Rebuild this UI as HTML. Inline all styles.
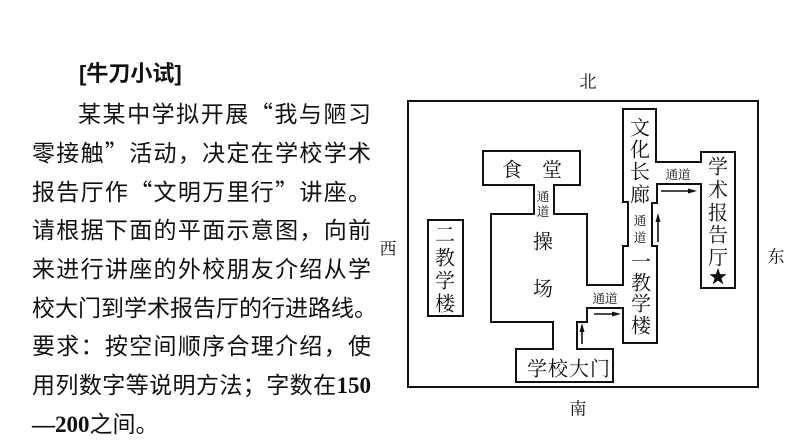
<!DOCTYPE html>
<html>
<head>
<meta charset="utf-8">
<style>
  html,body{margin:0;padding:0;background:#fff;}
  body{width:794px;height:447px;position:relative;overflow:hidden;}
  .t{position:absolute;left:32px;width:339px;height:39px;line-height:39px;font-size:23px;
     font-family:"Noto Sans CJK SC","Liberation Sans",sans-serif;color:#111;white-space:nowrap;
     text-align:justify;text-align-last:justify;}
  .n{font-family:"Liberation Serif",serif;font-weight:bold;}
  .title{position:absolute;left:79px;top:54px;line-height:39px;font-size:22px;font-weight:bold;
     font-family:"Liberation Sans","Noto Sans CJK SC",sans-serif;color:#111;white-space:nowrap;}
  svg{position:absolute;left:0;top:0;}
  .lbl{font-family:"Noto Serif CJK SC","Noto Serif CJK JP","Liberation Serif",serif;}
</style>
</head>
<body>
<div class="title">[牛刀小试]</div>
<div class="t" style="top:93px;left:78px;width:293px;">某某中学拟开展“我与陋习</div>
<div class="t" style="top:132px;">零接触”活动，决定在学校学术</div>
<div class="t" style="top:171px;">报告厅作“文明万里行”讲座。</div>
<div class="t" style="top:209px;">请根据下面的平面示意图，向前</div>
<div class="t" style="top:248px;">来进行讲座的外校朋友介绍从学</div>
<div class="t" style="top:287px;">校大门到学术报告厅的行进路线。</div>
<div class="t" style="top:325px;">要求：按空间顺序合理介绍，使</div>
<div class="t" style="top:364px;">用列数字等说明方法；字数在<span class="n">150</span></div>
<div class="t" style="top:403px;text-align:left;text-align-last:left;"><span class="n">—200</span>之间。</div>

<svg width="794" height="447" viewBox="0 0 794 447" xmlns="http://www.w3.org/2000/svg">
  <g fill="none" stroke="#111" stroke-width="2">
    <rect x="408" y="101" width="350" height="286"/>
    <rect x="428" y="220" width="35" height="96"/>
    <path d="M534,185 L483,185 L483,151 L580,151 L580,185 L554,185 L554,214 L587,214 L587,285 L623,285 L623,246 L628,246 L628,202 L623,202 L623,109 L656,109 L656,162 L701,162 L701,152 L735,152 L735,288 L701,288 L701,184 L657,184 L657,203 L652,203 L652,246 L657,246 L657,343 L623,343 L623,308 L587,308 L587,322 L577,322 L577,349 L613,349 L613,382 L516,382 L516,349 L553,349 L553,322 L491,322 L491,214 L534,214 Z"/>
  </g>
  <g stroke="#111" stroke-width="1.6" fill="#111">
    <line x1="582" y1="344" x2="582" y2="330"/>
    <polygon points="582,323 579.5,332 584.5,332" stroke="none"/>
    <line x1="594" y1="314" x2="613" y2="314"/>
    <polygon points="621,314 612,311.5 612,316.5" stroke="none"/>
    <line x1="658" y1="242" x2="658" y2="221"/>
    <polygon points="658,213 655.5,222 660.5,222" stroke="none"/>
    <line x1="661" y1="191" x2="689" y2="191"/>
    <polygon points="697,191 688,188.5 688,193.5" stroke="none"/>
  </g>
  <polygon fill="#111" points="718,268 720.1,274.1 726.6,274.2 721.4,278.1 723.3,284.3 718,280.6 712.7,284.3 714.6,278.1 709.4,274.2 715.9,274.1"/>
  <g class="lbl" fill="#111" text-anchor="middle" dominant-baseline="central">
    <g font-size="17">
      <text x="588" y="80">北</text>
      <text x="578" y="407">南</text>
      <text x="388" y="247">西</text>
      <text x="776" y="255">东</text>
    </g>
    <g font-size="20">
      <text x="512" y="168">食</text>
      <text x="552" y="168">堂</text>
      <text x="543" y="240">操</text>
      <text x="543" y="287">场</text>
      <text x="445" y="233">二</text>
      <text x="445" y="256">教</text>
      <text x="445" y="279">学</text>
      <text x="445" y="302">楼</text>
      <text x="640" y="126">文</text>
      <text x="640" y="148">化</text>
      <text x="640" y="170">长</text>
      <text x="640" y="193">廊</text>
      <text x="718" y="165">学</text>
      <text x="718" y="188">术</text>
      <text x="718" y="211">报</text>
      <text x="718" y="233">告</text>
      <text x="718" y="256">厅</text>
      <text x="641" y="260">一</text>
      <text x="641" y="281">教</text>
      <text x="641" y="302">学</text>
      <text x="641" y="324">楼</text>
      <text x="569" y="367" letter-spacing="1">学校大门</text>
    </g>
    <g font-size="12.5">
      <text x="678" y="174">通道</text>
      <text x="605" y="298">通道</text>
      <text x="543" y="196">通</text>
      <text x="543" y="211">道</text>
      <text x="640" y="220">通</text>
      <text x="640" y="237">道</text>
    </g>
  </g>
</svg>
</body>
</html>
